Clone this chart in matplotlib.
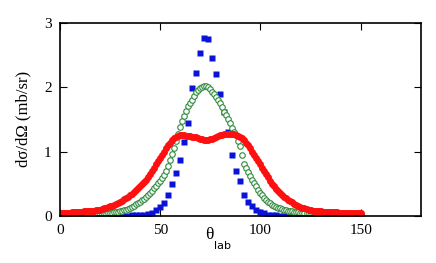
"""Angular distribution d sigma / d Omega vs theta_lab, three calculations."""

import numpy as np
import matplotlib.pyplot as plt


theta_blue = np.arange(0, 151, 2)
theta = np.arange(0, 151, 1)

sigma_blue = [
    0, 0, 0, 0, 0, 0, 0, 0, 0, 0,
    0, 0, 0, 0, 0, 0, 0.005, 0.005, 0.01, 0.01,
    0.015, 0.02, 0.03, 0.05, 0.09, 0.14, 0.2, 0.32, 0.5, 0.66,
    0.87, 1.15, 1.45, 1.98, 2.22, 2.53, 2.76, 2.74, 2.45, 2.2,
    1.9, 1.62, 1.3, 0.95, 0.7, 0.55, 0.33, 0.22, 0.15, 0.09,
    0.06, 0.04, 0.02, 0.015, 0.01, 0.005, 0.005, 0, 0, 0,
    0, 0, 0, 0, 0, 0, 0, 0, 0, 0,
    0, 0, 0, 0, 0, 0,
]
sigma_green = [
    0, 0, 0, 0, 0, 0.005, 0.005, 0.005, 0.005, 0.01,
    0.01, 0.01, 0.01, 0.015, 0.015, 0.015, 0.02, 0.02, 0.025, 0.025,
    0.03, 0.03, 0.035, 0.035, 0.04, 0.045, 0.05, 0.055, 0.06, 0.065,
    0.07, 0.08, 0.09, 0.1, 0.11, 0.125, 0.14, 0.16, 0.18, 0.2,
    0.22, 0.245, 0.27, 0.3, 0.33, 0.36, 0.39, 0.43, 0.47, 0.51,
    0.55, 0.59, 0.63, 0.7, 0.78, 0.87, 0.96, 1.06, 1.16, 1.27,
    1.38, 1.47, 1.55, 1.63, 1.7, 1.75, 1.8, 1.86, 1.92, 1.95,
    1.98, 2.0, 2.02, 2.02, 2.0, 1.97, 1.93, 1.89, 1.84, 1.8,
    1.75, 1.69, 1.62, 1.56, 1.5, 1.44, 1.37, 1.31, 1.25, 1.17,
    1.08, 0.94, 0.8, 0.74, 0.68, 0.62, 0.56, 0.51, 0.46, 0.41,
    0.36, 0.32, 0.28, 0.25, 0.22, 0.195, 0.17, 0.155, 0.14, 0.13,
    0.12, 0.11, 0.1, 0.09, 0.08, 0.075, 0.07, 0.065, 0.06, 0.055,
    0.05, 0.05, 0.05, 0.045, 0.045, 0.04, 0.04, 0.04, 0.035, 0.035,
    0.03, 0.03, 0.03, 0.03, 0.03, 0.03, 0.03, 0.03, 0.03, 0.03,
    0.025, 0.025, 0.025, 0.025, 0.025, 0.02, 0.02, 0.02, 0.02, 0.02,
    0.02,
]
sigma_red = [
    0.05, 0.05, 0.05, 0.05, 0.05, 0.05, 0.055, 0.055, 0.06, 0.06,
    0.06, 0.065, 0.07, 0.07, 0.075, 0.075, 0.08, 0.085, 0.09, 0.095,
    0.1, 0.11, 0.12, 0.13, 0.14, 0.15, 0.16, 0.175, 0.19, 0.205,
    0.22, 0.24, 0.26, 0.28, 0.3, 0.32, 0.34, 0.37, 0.4, 0.43,
    0.46, 0.495, 0.53, 0.565, 0.6, 0.65, 0.7, 0.75, 0.8, 0.85,
    0.9, 0.95, 1.0, 1.05, 1.1, 1.14, 1.18, 1.21, 1.23, 1.24,
    1.25, 1.25, 1.25, 1.245, 1.24, 1.235, 1.23, 1.225, 1.22, 1.21,
    1.2, 1.19, 1.18, 1.18, 1.18, 1.19, 1.2, 1.21, 1.23, 1.24,
    1.25, 1.26, 1.27, 1.275, 1.28, 1.28, 1.28, 1.27, 1.26, 1.245,
    1.23, 1.21, 1.18, 1.14, 1.1, 1.05, 1.0, 0.95, 0.9, 0.85,
    0.8, 0.75, 0.7, 0.65, 0.6, 0.55, 0.5, 0.46, 0.42, 0.385,
    0.35, 0.325, 0.3, 0.275, 0.25, 0.23, 0.21, 0.19, 0.17, 0.155,
    0.14, 0.13, 0.12, 0.11, 0.1, 0.09, 0.08, 0.075, 0.07, 0.07,
    0.07, 0.065, 0.06, 0.06, 0.06, 0.06, 0.055, 0.055, 0.055, 0.05,
    0.05, 0.05, 0.05, 0.05, 0.05, 0.05, 0.05, 0.05, 0.05, 0.05,
    0.05,
]

plt.rcParams["font.family"] = ["Liberation Serif", "DejaVu Serif"]

fig = plt.figure(figsize=(4.36, 2.63), dpi=100)
ax = fig.add_axes([0.1376, 0.1787, 0.8274, 0.735])

ax.plot(theta_blue, sigma_blue, ls="none", marker="s", ms=3.8, color="#0a14d8", mec="none")
ax.plot(theta, sigma_green, ls="none", marker="o", ms=4.0, mfc="white",
        mec="#2f8a3c", mew=0.8)
ax.plot(theta, sigma_red, ls="none", marker="o", ms=5.0, color="#ff1010", mec="none")

ax.set_xlim(0, 180)
ax.set_ylim(0, 3)
ax.set_xticks([0, 50, 100, 150])
ax.set_yticks([0, 1, 2, 3])
ax.tick_params(direction="in", top=True, right=True, length=5, width=0.8,
               labelsize=11, pad=6)
for s in ax.spines.values():
    s.set_linewidth(1.2)

ax.set_ylabel("dσ/dΩ (mb/sr)", fontsize=12, labelpad=9)
ax.text(0.402, -0.055, "θ", transform=ax.transAxes, fontsize=12.5,
        ha="left", va="top")
ax.text(0.428, -0.13, "lab", transform=ax.transAxes, fontsize=8,
        ha="left", va="top", family=["DejaVu Sans"])

fig.savefig("out.png", dpi=100)
